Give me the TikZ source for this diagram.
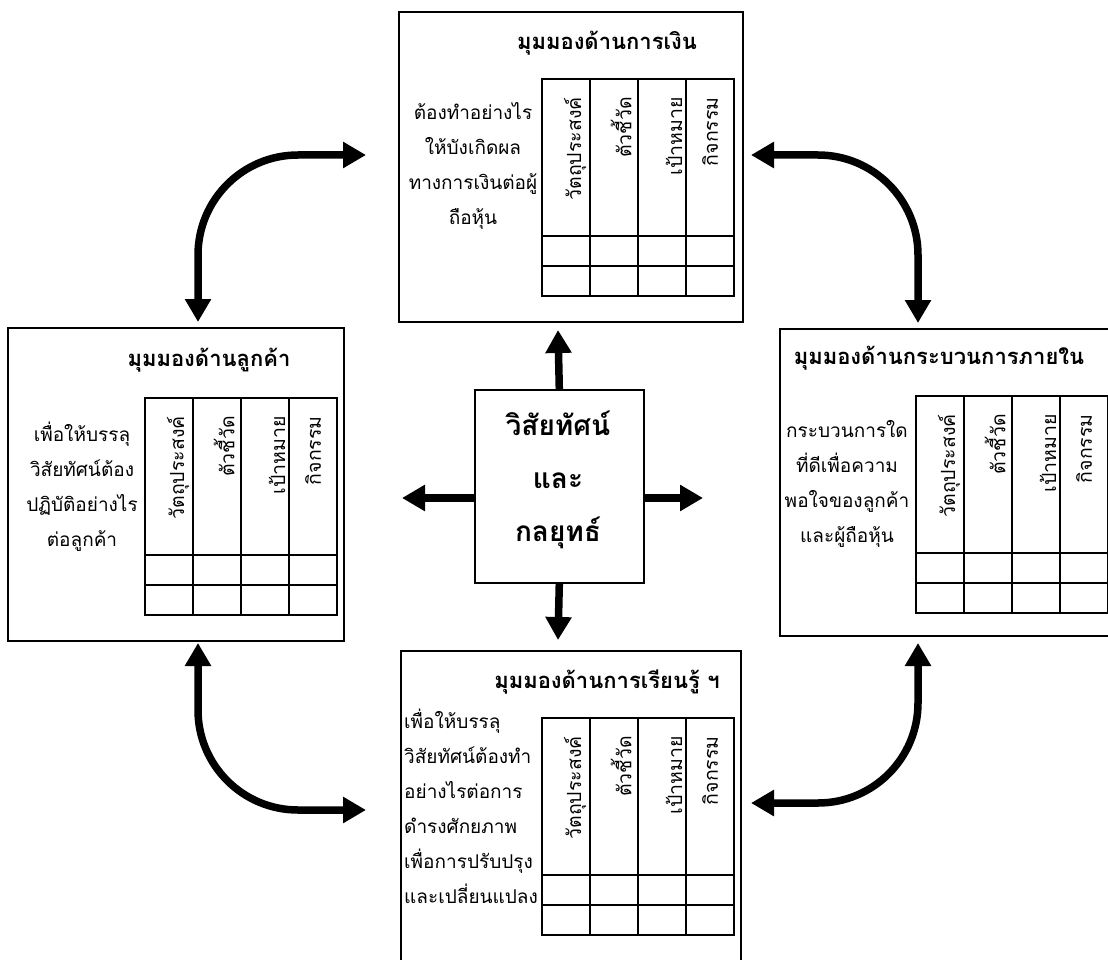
\documentclass[tikz,border=0pt]{standalone}
\usepackage{fontspec}
\newfontfamily\thai[Script=Thai]{Loma}
\usetikzlibrary{arrows.meta}

\tikzset{
  panel/.style={draw=black, line width=1.6pt, fill=white, inner sep=0pt, anchor=north west},
  gridline/.style={line width=2.6pt, line cap=rect},
  title/.style={font=\thai\bfseries\fontsize{22}{26}\selectfont, inner sep=0pt},
  body/.style={font=\thai\fontsize{19}{35}\selectfont, align=center, inner sep=0pt},
  head/.style={font=\thai\fontsize{19.5}{22}\selectfont, rotate=90, anchor=east, inner sep=0pt},
  bigarrow/.style={line width=7.5pt, -{Triangle[length=23pt,width=25pt]}},
  twoway/.style={line width=7.5pt, {Triangle[length=23pt,width=25pt]}-{Triangle[length=23pt,width=25pt]}, rounded corners=100pt},
}

% four-column table with rotated headings and two empty rows
% #1 = name prefix, #2 = left x, #3 = top y
\newcommand\bsctable[3]{%
  \draw[gridline] (#2,#3) rectangle ++(192,217);
  \foreach \c in {48,96,144} \draw[gridline] (#2+\c,#3) -- ++(0,217);
  \foreach \r in {157,187} \draw[gridline] (#2,#3+\r) -- ++(192,0);
  \node[head] (#1h1) at (#2+33,#3+18) {วัตถุประสงค์};
  \node[head] (#1h2) at (#2+79,#3+18) {ตัวชี้วัด};
  \node[head] (#1h3) at (#2+132,#3+18) {เป้าหมาย};
  \node[head] (#1h4) at (#2+168,#3+18) {กิจกรรม};
}

\begin{document}
\begin{tikzpicture}[x=1pt, y=-1pt]
\path[use as bounding box, clip] (0,0) rectangle (1108,960);
\fill[white] (0,0) rectangle (1108,960);

% perspective panels
\node[panel, minimum width=344pt, minimum height=310pt] (fin) at (398,11) {};
\node[panel, minimum width=336pt, minimum height=313pt] (cust) at (7,327) {};
\node[panel, minimum width=340pt, minimum height=307pt] (proc) at (779,328) {};
\node[panel, minimum width=340pt, minimum height=330pt] (learn) at (400,650) {};

% financial
\node[title] (finT) at (607,43) {มุมมองด้านการเงิน};
\node[body] (finB) at (473,166) {ต้องทำอย่างไร\\ให้บังเกิดผล\\ทางการเงินต่อผู้\\ถือหุ้น};
\bsctable{fin}{542}{79}

% customer
\node[title] (custT) at (209,360) {มุมมองด้านลูกค้า};
\node[body] (custB) at (82,487) {เพื่อให้บรรลุ\\วิสัยทัศน์ต้อง\\ปฏิบัติอย่างไร\\ต่อลูกค้า};
\bsctable{cust}{145}{398}

% internal process
\node[title] (procT) at (939,358) {มุมมองด้านกระบวนการภายใน};
\node[body] (procB) at (847,484) {กระบวนการใด\\ที่ดีเพื่อความ\\พอใจของลูกค้า\\และผู้ถือหุ้น};
\bsctable{proc}{916}{396}

% learning and growth
\node[title] (learnT) at (607,682) {มุมมองด้านการเรียนรู้ ฯ};
\node[body, align=left, anchor=west] (learnB) at (404,806) {เพื่อให้บรรลุ\\วิสัยทัศน์ต้องทำ\\อย่างไรต่อการ\\ดำรงศักยภาพ\\เพื่อการปรับปรุง\\และเปลี่ยนแปลง};
\bsctable{learn}{542}{718}

% vision and strategy
\node[panel, minimum width=169pt, minimum height=193pt] (core) at (474,389) {};
\node[font=\thai\bfseries\fontsize{28}{53}\selectfont, align=center, inner sep=0pt] (coreT) at (558,480) {วิสัยทัศน์\\และ\\กลยุทธ์};

% straight arrows out of the centre
\coordinate (upTip) at (558,330);
\coordinate (downTip) at (558,640);
\coordinate (leftTip) at (402,498);
\coordinate (rightTip) at (703,498);
\draw[bigarrow] (core.north) -- (upTip);
\draw[bigarrow] (core.south) -- (downTip);
\draw[bigarrow] (core.west |- leftTip) -- (leftTip);
\draw[bigarrow] (core.east |- rightTip) -- (rightTip);

% curved two-way arrows between neighbouring panels
\coordinate (tlA) at (198,322);
\coordinate (tlB) at (366,155);
\coordinate (trA) at (751,155);
\coordinate (trB) at (918,323);
\coordinate (blA) at (198,643);
\coordinate (blB) at (366,810);
\coordinate (brA) at (918,643);
\coordinate (brB) at (751,803);
\draw[twoway] (tlA) |- (tlB);
\draw[twoway] (trA) -| (trB);
\draw[twoway] (blA) |- (blB);
\draw[twoway] (brA) |- (brB);
\end{tikzpicture}
\end{document}
